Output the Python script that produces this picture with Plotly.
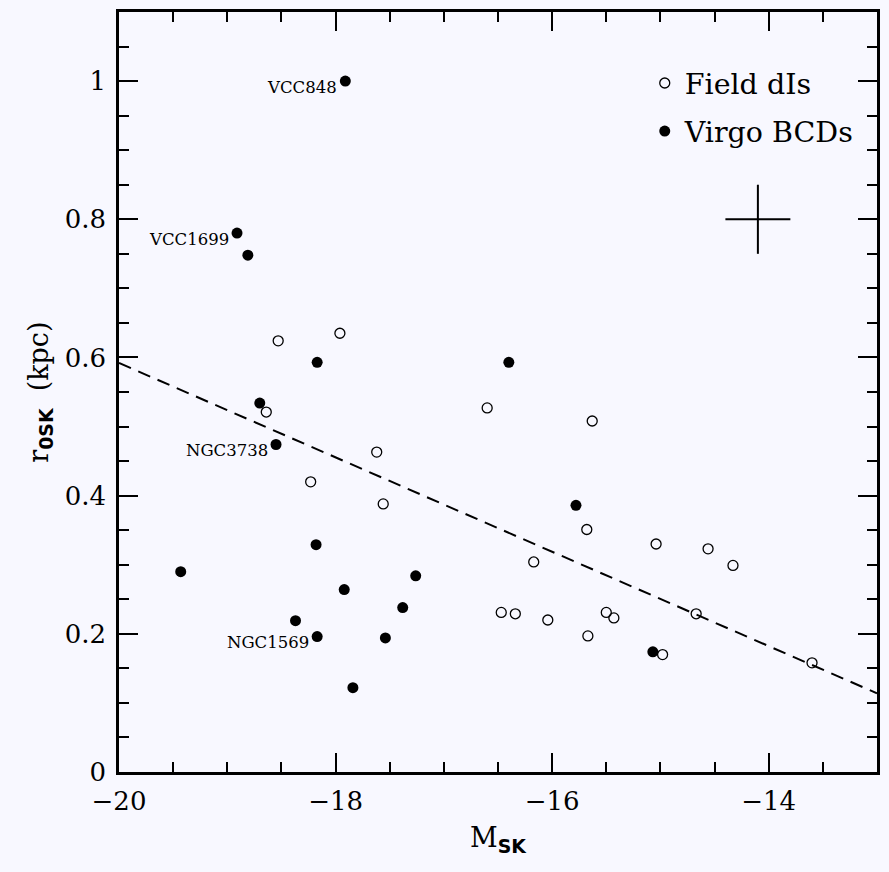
import plotly.graph_objects as go

# Field dwarf irregulars: absolute K magnitude vs. scale length (kpc)
field_mag = [-18.53, -17.96, -18.64, -18.23, -17.62, -17.56, -16.60, -15.63,
             -15.68, -15.04, -16.47, -16.34, -16.04, -16.17, -14.56, -14.33,
             -15.50, -15.43, -15.67, -14.98, -14.67, -13.60]
field_r0 = [0.624, 0.635, 0.521, 0.420, 0.463, 0.388, 0.527, 0.508,
            0.351, 0.330, 0.231, 0.229, 0.220, 0.304, 0.323, 0.299,
            0.231, 0.223, 0.197, 0.170, 0.229, 0.158]

# Virgo blue compact dwarfs
virgo_mag = [-17.91, -18.91, -18.81, -18.17, -18.70, -18.55, -16.40, -15.78,
             -19.43, -18.18, -17.92, -18.37, -18.17, -17.54, -17.84, -17.38,
             -17.26, -15.07]
virgo_r0 = [1.000, 0.780, 0.748, 0.593, 0.534, 0.474, 0.593, 0.386,
            0.290, 0.329, 0.264, 0.219, 0.196, 0.194, 0.122, 0.238,
            0.284, 0.174]

# Named galaxies (index into the Virgo arrays)
named_labels = ["VCC848", "VCC1699", "NGC3738", "NGC1569"]
named_index = [0, 1, 5, 12]

# Linear fit r0 = a + b * M
fit_a = -0.774
fit_b = -0.0683
fit_x = [-20.0, -13.0]

# Typical error bar
err_x, err_y = [-14.1], [0.80]
err_dx, err_dy = [0.3], [0.05]

BG = "#F8F8FF"
SERIF = "DejaVu Serif"
SANS_B = "font-family:DejaVu Sans;font-weight:bold"

fig = go.Figure()

fig.add_trace(go.Scatter(
    x=fit_x, y=[fit_a + fit_b * v for v in fit_x], mode="lines",
    line=dict(color="black", width=2, dash="13px,8px"),
    showlegend=False, hoverinfo="skip"))

fig.add_trace(go.Scatter(
    x=err_x, y=err_y, mode="markers",
    marker=dict(size=1, color="rgba(0,0,0,0)"),
    error_x=dict(type="data", array=err_dx, width=0, thickness=2, color="black"),
    error_y=dict(type="data", array=err_dy, width=0, thickness=2, color="black"),
    showlegend=False, hoverinfo="skip"))

fig.add_trace(go.Scatter(
    x=field_mag, y=field_r0, mode="markers", name="Field dIs",
    legendgroup="field",
    marker=dict(symbol="circle-open", size=10, color="black",
                line=dict(width=1.3, color="black"))))

fig.add_trace(go.Scatter(
    x=virgo_mag, y=virgo_r0, mode="markers", name="Virgo BCDs",
    legendgroup="virgo",
    marker=dict(symbol="circle", size=11, color="black")))

for lab, i in zip(named_labels, named_index):
    fig.add_annotation(
        x=virgo_mag[i], y=virgo_r0[i], text=lab, showarrow=False,
        xanchor="right", yanchor="middle", xshift=-6, yshift=-6,
        font=dict(family=SERIF, size=16.5, color="black"))

# Axis titles
fig.add_annotation(
    xref="paper", yref="paper", x=0.5, y=-0.0625,
    xanchor="center", yanchor="top", showarrow=False,
    text=f"M<sub><span style=\"{SANS_B}\">SK</span></sub>",
    font=dict(family=SERIF, size=27, color="black"))
fig.add_annotation(
    xref="paper", yref="paper", x=-0.1045, y=0.5,
    xanchor="center", yanchor="middle", showarrow=False, textangle=-90,
    text=f"r<sub><span style=\"{SANS_B}\">0SK</span></sub>  (kpc)",
    font=dict(family=SERIF, size=27, color="black"))

axis_common = dict(
    showgrid=False, zeroline=False, showline=True, linecolor="black",
    linewidth=2.5, mirror="allticks", ticks="inside", ticklen=19,
    tickwidth=2, tickcolor="black",
    tickfont=dict(family=SERIF, size=26, color="black"),
)

fig.update_xaxes(
    range=[-20, -13], tick0=-20, dtick=2,
    minor=dict(dtick=0.5, tick0=-20, ticks="inside", ticklen=10,
               tickwidth=2, tickcolor="black"),
    ticklabelstandoff=4,
    **axis_common)

fig.update_yaxes(
    range=[0, 1.1], tick0=0, dtick=0.2,
    minor=dict(dtick=0.05, tick0=0, ticks="inside", ticklen=10,
               tickwidth=2, tickcolor="black"),
    ticklabelstandoff=5,
    **axis_common)

fig.update_layout(
    width=889, height=872,
    margin=dict(l=118.5, r=9.7, t=12, b=100, pad=0),
    paper_bgcolor=BG, plot_bgcolor=BG,
    font=dict(family=SERIF, color="black"),
    legend=dict(x=0.6936, y=0.9395, xanchor="left", yanchor="top",
                bgcolor="rgba(0,0,0,0)", borderwidth=0,
                font=dict(family=SERIF, size=28.5, color="black"),
                tracegroupgap=8),
)

fig.write_html("out.html")
